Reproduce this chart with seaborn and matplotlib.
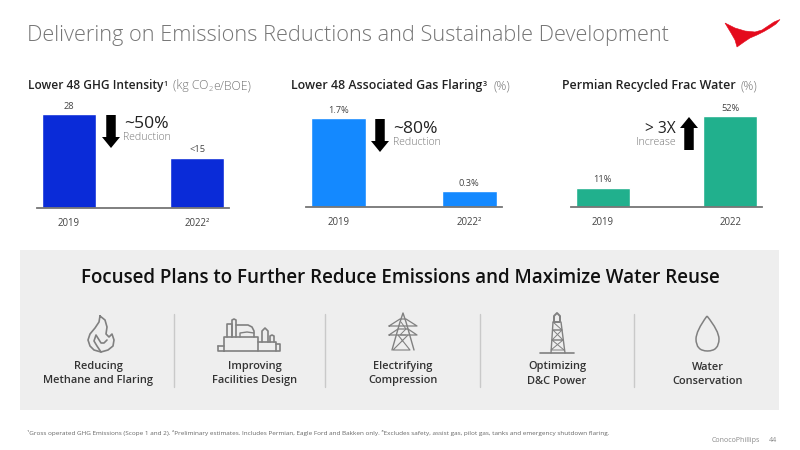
import matplotlib
matplotlib.use("Agg")
import matplotlib.pyplot as plt
import seaborn as sns
from matplotlib.patches import Rectangle, Polygon, FancyArrow, PathPatch
from matplotlib.path import Path

# --- Data ---
years_ghg = ["2019", "2022²"]
ghg_values = [28, 15]
ghg_labels = ["28", "<15"]

years_flaring = ["2019", "2022²"]
flaring_values = [1.7, 0.3]
flaring_labels = ["1.7%", "0.3%"]

years_water = ["2019", "2022"]
water_values = [11, 52]
water_labels = ["11%", "52%"]

plan_labels = ["Reducing\nMethane and Flaring", "Improving\nFacilities Design", "Electrifying\nCompression",
               "Optimizing\nD&C Power", "Water\nConservation"]
plan_centers = [98, 255, 403, 557, 708]
divider_x = [174, 325, 480, 634]

FONT = "Open Sans"
GREY = "#757575"
DARK = "#222222"

sns.set_theme(style="white")
plt.rcParams["font.family"] = [FONT, "DejaVu Sans"]

W, H = 800, 450
fig = plt.figure(figsize=(8, 4.5), dpi=100)
fig.patch.set_facecolor("white")

# overlay in pixel coordinates for everything that is slide decoration
bg = fig.add_axes([0, 0, 1, 1])
bg.set_xlim(0, W)
bg.set_ylim(H, 0)
bg.axis("off")


def put_runs(x, y, runs):
    # write text pieces one after the other on the same baseline
    renderer = fig.canvas.get_renderer()
    for txt, size, weight, color, dy, gap in runs:
        x += gap
        t = bg.text(x, y + dy, txt, fontsize=size, fontweight=weight, color=color, va="baseline", ha="left")
        x += t.get_window_extent(renderer).width


# --- Bar panels ---
def bar_panel(x0, x1, base, names, values, labels, color, value_px):
    ax = fig.add_axes([x0 / W, 1 - base / H, (x1 - x0) / W, (base - 90) / H])
    sns.barplot(x=names, y=values, color=color, saturation=1, width=0.42, ax=ax)
    ax.set_xlim(-0.25, 1.25)
    # scale so the tallest bar reaches its pixel height
    ax.set_ylim(0, max(values) * (base - 90) / value_px)
    ax.patch.set_alpha(0)
    sns.despine(ax=ax, left=True)
    ax.spines["bottom"].set_color(GREY)
    ax.spines["bottom"].set_linewidth(1.3)
    ax.set_yticks([])
    ax.tick_params(axis="x", length=0, pad=7, labelsize=6.9, labelcolor="#444444")
    ax.bar_label(ax.containers[0], labels=labels, padding=2.5, fontsize=6.7, color="#444444")
    return ax


bar_panel(37, 229, 208, years_ghg, ghg_values, ghg_labels, "#0a2bd8", 94)
bar_panel(306, 502, 207, years_flaring, flaring_values, flaring_labels, "#1489ff", 89)
bar_panel(571, 762, 207, years_water, water_values, water_labels, "#21b08d", 91)

# --- Headline and panel titles ---
bg.text(27, 41, "Delivering on Emissions Reductions and Sustainable Development", fontsize=15.65,
        fontweight=300, color=GREY, va="baseline")

put_runs(28, 89, [("Lower 48 GHG Intensity", 8.6, 600, DARK, 0, 0), ("1", 5.2, 600, DARK, -3.5, 0.5),
                  ("(kg CO", 8.8, 300, GREY, 0, 5), ("2", 5.5, 300, GREY, 2, 0), ("e/BOE)", 8.8, 300, GREY, 0, 1)])
put_runs(291, 89, [("Lower 48 Associated Gas Flaring", 8.9, 600, DARK, 0, 0), ("3", 5.2, 600, DARK, -3.5, 0.5),
                   ("(%)", 8.9, 300, GREY, 0, 7)])
put_runs(562, 89, [("Permian Recycled Frac Water", 8.9, 600, DARK, 0, 0), ("(%)", 8.9, 300, GREY, 0, 5)])

# --- Callouts ---
def arrow(x, y0, y1):
    bg.add_patch(FancyArrow(x, y0, 0, y1 - y0, width=9.5, head_width=18, head_length=11,
                            length_includes_head=True, color="black", lw=0))


arrow(111, 115, 148)
arrow(380, 119, 152)
arrow(689, 150, 117)

bg.text(124, 124, "~50%", fontsize=12.6, color=DARK, va="center", fontweight=500)
bg.text(123, 137.5, "Reduction", fontsize=7.6, color=GREY, va="center", fontweight=300)
bg.text(393, 129, "~80%", fontsize=12.6, color=DARK, va="center", fontweight=500)
bg.text(393, 142.5, "Reduction", fontsize=7.6, color=GREY, va="center", fontweight=300)
bg.text(676, 129, "> 3X", fontsize=11.2, color=DARK, va="center", ha="right", fontweight=500)
bg.text(676, 142.5, "Increase", fontsize=7.6, color=GREY, va="center", ha="right", fontweight=300)

# --- Logo ---
bg.add_patch(Polygon([(725, 23), (735, 28), (745, 31), (755, 32), (762, 30), (768, 26), (774, 22), (780, 19.5),
                      (776, 24), (770, 28), (764, 31.5), (757, 35), (750, 38), (744, 42), (737, 47),
                      (735, 40), (731, 33)], closed=True, facecolor="#e40a1c", edgecolor="#e40a1c", lw=0.4))

# --- Grey plans box ---
bg.add_patch(Rectangle((20, 250), 759, 160, facecolor="#eeeeee", edgecolor="none"))
bg.text(400, 278, "Focused Plans to Further Reduce Emissions and Maximize Water Reuse", fontsize=13.5,
        fontweight=600, color="#111111", ha="center", va="center")

for x in divider_x:
    bg.plot([x, x], [314, 387], color="#c9c9c9", lw=1)

for cx, label in zip(plan_centers, plan_labels):
    first, second = label.split("\n")
    bg.text(cx, 367, first, fontsize=7.9, fontweight=600, color="#333333", ha="center", va="center")
    bg.text(cx, 381, second, fontsize=7.9, fontweight=600, color="#333333", ha="center", va="center")

# --- Icons (rough line drawings) ---
ICON = "#808080"


def line(pts, lw=1.0):
    xs, ys = zip(*pts)
    bg.plot(xs, ys, color=ICON, lw=lw, solid_joinstyle="round", solid_capstyle="round")


# flame
line([(100, 316), (105, 320), (107, 327), (106, 334), (109, 337), (112, 334), (114, 340), (113, 346),
      (108, 350), (101, 352), (94, 350), (90, 346), (88, 340), (90, 334), (95, 328), (99, 322), (100, 316)], 1.2)
line([(101, 352), (97, 346), (94, 341), (96, 335), (101, 343), (104, 343), (107, 340)], 1.2)

# facilities
line([(224, 351), (224, 337), (258, 337), (258, 351), (224, 351)], 1.2)
line([(258, 342), (276, 342), (276, 351), (258, 351)], 1.2)
line([(218, 346), (224, 346)], 1.2)
line([(218, 346), (218, 351), (224, 351)], 1.2)
line([(276, 344), (280, 344), (280, 351), (276, 351)], 1.2)
line([(227, 337), (227, 324), (232, 324), (232, 337)], 1.2)
line([(232, 337), (232, 320), (234, 319), (236, 320), (236, 337)], 1.2)
line([(236, 325), (248, 325), (252, 327), (254, 331), (254, 337)], 1.2)
line([(240, 337), (240, 333), (247, 332), (254, 333)], 1.0)
line([(262, 342), (262, 331), (265, 328), (268, 331), (268, 342)], 1.2)
line([(270, 342), (270, 336), (272, 335), (274, 336), (274, 342)], 1.2)

# pylon
line([(392, 350), (400, 322), (403, 313), (406, 322), (414, 350)], 1.0)
line([(389, 326), (400, 319), (406, 319), (417, 326), (389, 326)], 0.9)
line([(389, 335), (398, 329), (408, 329), (417, 335), (389, 335)], 0.9)
line([(398, 335), (410, 350), (393, 350), (408, 335)], 0.8)
line([(401, 322), (406, 329), (400, 335), (406, 335)], 0.7)

# derrick
line([(540, 353), (574, 353)], 1.2)
line([(553, 322), (551, 353)], 1.0)
line([(561, 322), (565, 353)], 1.0)
line([(554, 322), (554, 316), (557, 313), (560, 316), (560, 322), (554, 322)], 1.4)
line([(553, 330), (562, 330), (552, 340), (563, 340), (551, 350), (564, 350)], 0.7)
line([(553, 322), (562, 330), (553, 330), (563, 340), (552, 340), (564, 350)], 0.7)

# water drop
drop = Path([(707, 316), (696, 331), (696, 339), (696, 351), (707.5, 351), (719, 351), (719, 339), (719, 331),
             (707, 316)],
            [Path.MOVETO, Path.CURVE3, Path.CURVE3, Path.CURVE3, Path.CURVE3, Path.CURVE3, Path.CURVE3,
             Path.CURVE3, Path.CURVE3])
bg.add_patch(PathPatch(drop, facecolor="none", edgecolor=ICON, lw=1.1))

# --- Footnotes ---
bg.text(27, 433, "¹Gross operated GHG Emissions (Scope 1 and 2). ²Preliminary estimates. Includes Permian, "
        "Eagle Ford and Bakken only. ³Excludes safety, assist gas, pilot gas, tanks and emergency shutdown flaring.",
        fontsize=4.55, color="#666666", va="center")
bg.text(712, 441, "ConocoPhillips", fontsize=5, color="#8a8a8a", va="center")
bg.text(773, 441, "44", fontsize=5, color="#8a8a8a", va="center", ha="center")

fig.savefig("out.png", dpi=100)
